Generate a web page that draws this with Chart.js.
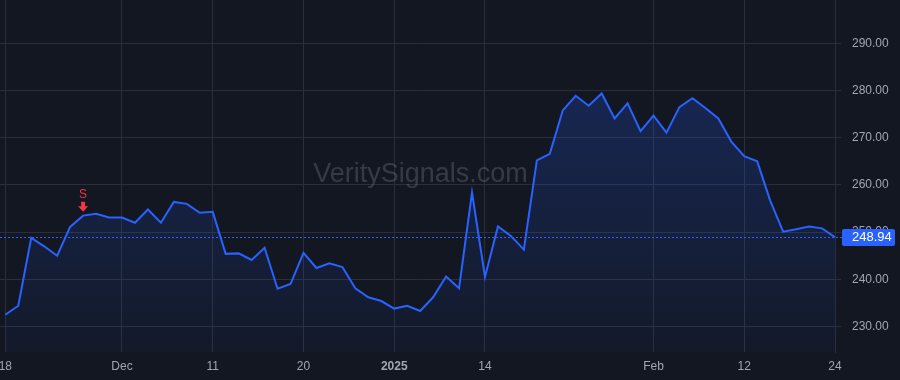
<!DOCTYPE html>
<html>
<head>
<meta charset="utf-8">
<script src="https://cdn.jsdelivr.net/npm/chart.js@4.4.1/dist/chart.umd.min.js"></script>
<style>
  html, body { margin: 0; padding: 0; background: #131722; }
  #wrap { width: 900px; height: 380px; }
</style>
</head>
<body>
<div id="wrap"><canvas id="priceChart" width="900" height="380"></canvas></div>
<script>
// trading days shown on the chart
const dates = [
  '2024-11-18','2024-11-19','2024-11-20','2024-11-21','2024-11-22','2024-11-25','2024-11-26','2024-11-27','2024-11-29',
  '2024-12-02','2024-12-03','2024-12-04','2024-12-05','2024-12-06','2024-12-09','2024-12-10','2024-12-11','2024-12-12',
  '2024-12-13','2024-12-16','2024-12-17','2024-12-18','2024-12-19','2024-12-20','2024-12-23','2024-12-24','2024-12-26',
  '2024-12-27','2024-12-30','2024-12-31',
  '2025-01-02','2025-01-03','2025-01-06','2025-01-07','2025-01-08','2025-01-10','2025-01-13','2025-01-14','2025-01-15',
  '2025-01-16','2025-01-17','2025-01-21','2025-01-22','2025-01-23','2025-01-24','2025-01-27','2025-01-28','2025-01-29',
  '2025-01-30','2025-01-31',
  '2025-02-03','2025-02-04','2025-02-05','2025-02-06','2025-02-07','2025-02-10','2025-02-11','2025-02-12','2025-02-13',
  '2025-02-14','2025-02-18','2025-02-19','2025-02-20','2025-02-21','2025-02-24'
];

// closing prices
const closes = [
  232.5, 234.4, 248.8, 247.0, 245.0, 251.1, 253.5, 253.9, 253.1,
  253.1, 252.0, 254.8, 252.0, 256.4, 256.0, 254.1, 254.3, 245.4,
  245.5, 244.1, 246.7, 238.0, 239.0, 245.6, 242.4, 243.4, 242.6,
  238.1, 236.2, 235.4,
  233.8, 234.4, 233.3, 236.2, 240.6, 238.1, 258.4, 240.5, 251.2,
  249.2, 246.3, 265.2, 266.6, 275.8, 278.9, 276.8, 279.4, 274.1,
  277.3, 271.4,
  274.7, 271.1, 276.5, 278.4, 276.3, 274.1, 269.2, 266.1, 265.0,
  256.7, 250.1, 250.6, 251.2, 250.8, 248.94
];

// x axis labels
const tickDates = ['2024-11-18', '2024-12-02', '2024-12-11', '2024-12-20', '2025-01-02', '2025-01-14', '2025-02-03', '2025-02-12', '2025-02-24'];
const tickLabels = ['18', 'Dec', '11', '20', '2025', '14', 'Feb', '12', '24'];
const boldLabels = ['2025'];

// signal markers
const signalDates = ['2024-11-26'];
const signalLabels = ['S'];

const lineColor = '#2962ff';
const gridColor = '#2a2e39';
const textColor = '#a3a6af';
const watermarkText = 'VeritySignals.com';

const points = closes.map((v, i) => ({ x: i, y: v }));
const tickIndex = tickDates.map(d => dates.indexOf(d));

Chart.defaults.font.family = '"Liberation Sans", Arial, sans-serif';
Chart.defaults.font.size = 12;

const watermarkPlugin = {
  id: 'watermark',
  beforeDatasetsDraw(chart) {
    const ctx = chart.ctx;
    const area = chart.chartArea;
    ctx.save();
    ctx.font = '27px "Liberation Sans", Arial, sans-serif';
    ctx.fillStyle = 'rgba(128, 132, 145, 0.33)';
    ctx.textAlign = 'center';
    ctx.textBaseline = 'alphabetic';
    ctx.fillText(watermarkText, (area.left + area.right) / 2 + 3, 182);
    ctx.restore();
  }
};

const priceLinePlugin = {
  id: 'priceLine',
  afterDatasetsDraw(chart) {
    const ctx = chart.ctx;
    const area = chart.chartArea;
    const y = Math.round(chart.scales.y.getPixelForValue(closes[closes.length - 1])) + 0.5;
    ctx.save();
    ctx.strokeStyle = lineColor;
    ctx.lineWidth = 1;
    ctx.setLineDash([2, 2]);
    ctx.beginPath();
    ctx.moveTo(area.left, y);
    ctx.lineTo(area.right + 7, y);
    ctx.stroke();
    ctx.restore();

    // signal markers above the points
    const xs = chart.scales.x, ys = chart.scales.y;
    signalDates.forEach((d, k) => {
      const i = dates.indexOf(d);
      const px = xs.getPixelForValue(i);
      const py = ys.getPixelForValue(closes[i]);
      ctx.save();
      ctx.fillStyle = '#f23645';
      ctx.font = '12px "Liberation Sans", Arial, sans-serif';
      ctx.textAlign = 'center';
      ctx.textBaseline = 'alphabetic';
      ctx.fillText(signalLabels[k], px, py - 17.5);
      // arrow
      const tip = py - 4;
      ctx.beginPath();
      ctx.moveTo(px - 2, tip - 10);
      ctx.lineTo(px + 2, tip - 10);
      ctx.lineTo(px + 2, tip - 5.5);
      ctx.lineTo(px + 5, tip - 5.5);
      ctx.lineTo(px, tip);
      ctx.lineTo(px - 5, tip - 5.5);
      ctx.lineTo(px - 2, tip - 5.5);
      ctx.closePath();
      ctx.fill();
      ctx.restore();
    });
  },
  afterDraw(chart) {
    const ctx = chart.ctx;
    const area = chart.chartArea;
    const last = closes[closes.length - 1];
    const y = chart.scales.y.getPixelForValue(last);
    const bx = area.right + 7, bw = 53, bh = 17;
    ctx.save();
    ctx.fillStyle = lineColor;
    ctx.beginPath();
    ctx.roundRect(bx, Math.round(y - bh / 2), bw, bh, 2);
    ctx.fill();
    ctx.fillStyle = '#ffffff';
    ctx.font = '13px "Liberation Sans", Arial, sans-serif';
    ctx.textAlign = 'left';
    ctx.textBaseline = 'middle';
    ctx.fillText(last.toFixed(2), area.right + 17, y + 0.5);
    ctx.restore();
  }
};

new Chart(document.getElementById('priceChart').getContext('2d'), {
  type: 'line',
  data: {
    datasets: [{
      data: points,
      borderColor: lineColor,
      borderWidth: 2,
      pointRadius: 0,
      tension: 0,
      fill: 'start',
      backgroundColor: function(context) {
        const area = context.chart.chartArea;
        if (!area) return 'rgba(41, 98, 255, 0.15)';
        const g = context.chart.ctx.createLinearGradient(0, area.top, 0, area.bottom);
        g.addColorStop(0, 'rgba(41, 98, 255, 0.28)');
        g.addColorStop(1, 'rgba(41, 98, 255, 0.04)');
        return g;
      }
    }]
  },
  options: {
    responsive: false,
    animation: false,
    devicePixelRatio: 1,
    layout: { padding: 0 },
    plugins: {
      legend: { display: false },
      tooltip: { enabled: false }
    },
    scales: {
      x: {
        type: 'linear',
        position: 'bottom',
        min: -0.41,
        max: dates.length - 1,
        afterBuildTicks: (scale) => {
          scale.ticks = tickIndex.map(v => ({ value: v }));
        },
        afterFit: (scale) => {
          scale.height = 28;
          scale.paddingLeft = 0;
          scale.paddingRight = 0;
        },
        ticks: {
          autoSkip: false,
          maxRotation: 0,
          padding: 7,
          color: textColor,
          callback: (value) => tickLabels[tickIndex.indexOf(value)],
          font: (ctx) => {
            const lbl = ctx.tick ? tickLabels[tickIndex.indexOf(ctx.tick.value)] : '';
            return { weight: boldLabels.includes(lbl) ? 'bold' : 'normal', size: 12 };
          }
        },
        grid: { color: gridColor, drawTicks: false },
        border: { display: false }
      },
      y: {
        position: 'right',
        min: 224.6,
        max: 299.2,
        afterFit: (scale) => {
          scale.width = 65;
          scale.paddingTop = 0;
          scale.paddingBottom = 0;
        },
        ticks: {
          stepSize: 10,
          includeBounds: false,
          padding: 11,
          color: textColor,
          callback: (value) => value.toFixed(2)
        },
        grid: { color: gridColor, drawTicks: true, tickLength: 6 },
        border: { display: true, color: gridColor }
      }
    }
  },
  plugins: [watermarkPlugin, priceLinePlugin]
});
</script>
</body>
</html>
